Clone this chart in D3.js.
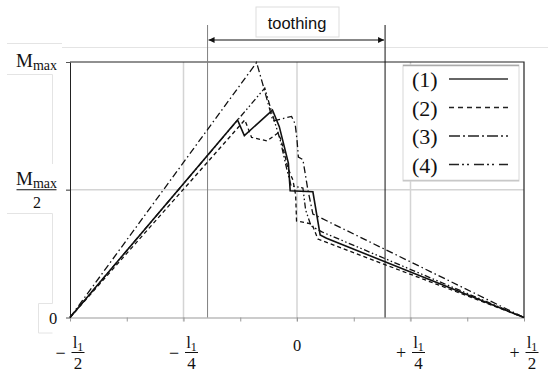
<!DOCTYPE html>
<html>
<head>
<meta charset="utf-8">
<script src="https://cdn.jsdelivr.net/npm/d3@7"></script>
<style>
  body { margin: 0; background: #fff; }
  svg { display: block; }
</style>
</head>
<body>
<div id="chart"></div>
<script>
// x in units of l1 (-l1/2 .. +l1/2), y in units of Mmax
const curve1 = [[-0.5, 0], [-0.131, 0.773], [-0.116, 0.712], [-0.054, 0.812], [-0.039, 0.747],
  [-0.019, 0.604], [-0.015, 0.496], [0.035, 0.492], [0.051, 0.323], [0.065, 0.310], [0.5, 0]];
const curve2 = [[-0.5, 0], [-0.115, 0.773], [-0.100, 0.705], [-0.066, 0.691], [-0.042, 0.722],
  [-0.035, 0.695], [-0.020, 0.585], [-0.009, 0.538], [-0.003, 0.480], [-0.001, 0.378],
  [0.033, 0.366], [0.046, 0.307], [0.5, 0]];
const curve3 = [[-0.5, 0], [-0.089, 0.998], [-0.073, 0.898], [-0.053, 0.769], [-0.012, 0.787],
  [-0.004, 0.757], [0.000, 0.695], [0.003, 0.628], [0.013, 0.618], [0.024, 0.499],
  [0.035, 0.405], [0.5, 0]];
const curve4 = [[-0.5, 0], [-0.071, 0.898], [-0.056, 0.806], [-0.037, 0.695], [-0.022, 0.577],
  [-0.013, 0.515], [0.013, 0.507], [0.019, 0.421], [0.031, 0.358], [0.055, 0.335], [0.5, 0]];

const series = [curve1, curve2, curve3, curve4];
const legendLabels = ["(1)", "(2)", "(3)", "(4)"];

const xTicks = [-0.5, -0.375, -0.25, -0.125, 0, 0.125, 0.25, 0.375, 0.5];
const xLabels = [
  { v: -0.5, sign: "\u2212", den: "2" },
  { v: -0.25, sign: "\u2212", den: "4" },
  { v: 0, sign: "", den: "" },
  { v: 0.25, sign: "+", den: "4" },
  { v: 0.5, sign: "+", den: "2" }
];
const yTicks = [0, 0.5, 1];
const gridX = [-0.25, 0, 0.25];
const gridY = [0.5];
const toothing = [-0.197, 0.194];
const toothingLabel = "toothing";

const W = 548, H = 373;
const serif = "'Liberation Serif', 'Times New Roman', serif";
const sans = "'Liberation Sans', Arial, sans-serif";
const dashes = [null, "4,3", "7,3,1.5,3", "6,2.5,1.5,2.5,1.5,2.5"];
const legendDashes = [null, "5,4", "11,3,2,3", "10,3,2,3,2,5"];

const svg = d3.select("#chart").append("svg")
  .attr("width", W).attr("height", H);

const x = d3.scaleLinear().domain([-0.5, 0.5]).range([70, 524]);
const y = d3.scaleLinear().domain([0, 1]).range([317.5, 62]);

// faint frames left over from the equation objects
const faint = svg.append("g").attr("stroke", "#e4e4e4").attr("fill", "none");
faint.append("path").attr("d", "M7,43.5H62 M62,47.5H548 M7,74.5H52.5V164 M7,213.5H52.5V303.5H38.5V333H52.5");

// grid
svg.append("g").selectAll("line").data(gridX).join("line")
  .attr("x1", d => x(d)).attr("x2", d => x(d))
  .attr("y1", y(1)).attr("y2", y(0) + 4)
  .attr("stroke", "#d4d4d4").attr("stroke-width", 1.5);
svg.append("g").selectAll("line").data(gridY).join("line")
  .attr("x1", x(-0.5) - 4).attr("x2", x(0.5))
  .attr("y1", d => y(d)).attr("y2", d => y(d))
  .attr("stroke", "#d4d4d4").attr("stroke-width", 1.5);

// axes
const xAxis = svg.append("g")
  .attr("transform", `translate(0,${y(0)})`)
  .call(d3.axisBottom(x).tickValues(xTicks).tickSize(4).tickSizeOuter(0).tickFormat(""));
xAxis.select(".domain").attr("stroke", "#999");
xAxis.selectAll(".tick line").attr("stroke", "#999");

const yAxis = svg.append("g")
  .attr("transform", `translate(${x(-0.5)},0)`)
  .call(d3.axisLeft(y).tickValues(yTicks).tickSize(4).tickSizeOuter(0).tickFormat(""));
yAxis.select(".domain").attr("stroke", "#222");
yAxis.selectAll(".tick line").attr("stroke", "#555");

// top and right frame
svg.append("path")
  .attr("d", `M${x(-0.5)},${y(1)}H${x(0.5)}V${y(0)}`)
  .attr("fill", "none").attr("stroke", "#222").attr("stroke-width", 1.2);

// toothing zone
svg.append("defs").append("marker")
  .attr("id", "arr").attr("viewBox", "0 0 10 10")
  .attr("refX", 10).attr("refY", 5)
  .attr("markerWidth", 9).attr("markerHeight", 6)
  .attr("markerUnits", "userSpaceOnUse")
  .attr("orient", "auto-start-reverse")
  .append("path").attr("d", "M0,0L10,5L0,10z").attr("fill", "#111");

svg.append("g").selectAll("line").data(toothing).join("line")
  .attr("x1", d => x(d)).attr("x2", d => x(d))
  .attr("y1", 25).attr("y2", y(0))
  .attr("stroke", (d, i) => i === 0 ? "#808080" : "#111")
  .attr("stroke-width", 1);

svg.append("line")
  .attr("x1", x(toothing[0]) + 1).attr("x2", x(toothing[1]) - 1)
  .attr("y1", 40).attr("y2", 40)
  .attr("stroke", "#111").attr("stroke-width", 1)
  .attr("marker-start", "url(#arr)").attr("marker-end", "url(#arr)");

svg.append("rect")
  .attr("x", 256).attr("y", 7).attr("width", 83).attr("height", 30)
  .attr("fill", "#fff").attr("stroke", "#ddd");
svg.append("text")
  .attr("x", 297).attr("y", 28.5)
  .attr("text-anchor", "middle")
  .style("font-family", sans).style("font-size", "16.5px").style("fill", "#111")
  .text(toothingLabel);

// curves
const line = d3.line().x(d => x(d[0])).y(d => y(d[1]));
svg.append("g").selectAll("path").data(series).join("path")
  .attr("d", line)
  .attr("fill", "none")
  .attr("stroke", "#111")
  .attr("stroke-width", (d, i) => i === 0 ? 1.6 : 1.3)
  .attr("stroke-dasharray", (d, i) => dashes[i]);

// y labels
const yl = svg.append("g").style("font-family", serif).style("fill", "#111");
const mTop = yl.append("text").attr("x", 36.5).attr("y", y(1) + 4.5)
  .attr("text-anchor", "middle").style("font-size", "19px");
mTop.append("tspan").text("M");
mTop.append("tspan").attr("dy", 3).style("font-size", "14px").text("max");

const mHalf = yl.append("text").attr("x", 36.5).attr("y", y(0.5) - 4.5)
  .attr("text-anchor", "middle").style("font-size", "19px");
mHalf.append("tspan").text("M");
mHalf.append("tspan").attr("dy", 3).style("font-size", "14px").text("max");
yl.append("line").attr("x1", 16.5).attr("x2", 56.5)
  .attr("y1", y(0.5)).attr("y2", y(0.5))
  .attr("stroke", "#111").attr("stroke-width", 1);
yl.append("text").attr("x", 37).attr("y", y(0.5) + 18.5)
  .attr("text-anchor", "middle").style("font-size", "16px").text("2");

yl.append("text").attr("x", 53).attr("y", y(0) + 6)
  .attr("text-anchor", "middle").style("font-size", "16.5px").text("0");

// x labels
const xl = svg.append("g").style("font-family", serif).style("fill", "#111")
  .selectAll("g").data(xLabels).join("g")
  .attr("transform", d => `translate(${x(d.v)},0)`);

xl.filter(d => d.den === "").append("text")
  .attr("y", 351).attr("text-anchor", "middle")
  .style("font-size", "16.5px").text("0");

const fr = xl.filter(d => d.den !== "");
fr.append("text").attr("x", -9.5).attr("y", 358.5)
  .attr("text-anchor", "middle").style("font-size", "18px")
  .text(d => d.sign);
const num = fr.append("text").attr("x", 8).attr("y", 348)
  .attr("text-anchor", "middle").style("font-size", "17px");
num.append("tspan").text("l");
num.append("tspan").attr("dy", 2.5).style("font-size", "12px").text("1");
fr.append("line").attr("x1", 1.5).attr("x2", 14.5)
  .attr("y1", 352.5).attr("y2", 352.5)
  .attr("stroke", "#111").attr("stroke-width", 1);
fr.append("text").attr("x", 8).attr("y", 368.5)
  .attr("text-anchor", "middle").style("font-size", "17px")
  .text(d => d.den);

// legend
const lg = svg.append("g").attr("transform", "translate(403,65)");
lg.append("rect").attr("width", 116).attr("height", 116)
  .attr("fill", "#fff").attr("stroke", "#d8d8d8");
lg.append("line").attr("x1", 0).attr("x2", 116).attr("y1", 0.5).attr("y2", 0.5)
  .attr("stroke", "#aaa").attr("stroke-width", 1.5);
lg.append("line").attr("x1", 0).attr("x2", 116).attr("y1", 115.5).attr("y2", 115.5)
  .attr("stroke", "#c8c8c8").attr("stroke-width", 1.5);

const item = lg.selectAll("g.item").data(legendLabels).join("g")
  .attr("class", "item")
  .attr("transform", (d, i) => `translate(0,${14 + i * 28.5})`);
item.append("text").attr("x", 9).attr("y", 8)
  .style("font-family", serif).style("font-size", "22px").style("fill", "#111")
  .text(d => d);
item.append("line").attr("x1", 46).attr("x2", 105)
  .attr("y1", 0).attr("y2", 0)
  .attr("stroke", (d, i) => i === 0 ? "#666" : "#222")
  .attr("stroke-width", (d, i) => i === 0 ? 2 : 1.6)
  .attr("stroke-dasharray", (d, i) => legendDashes[i]);
</script>
</body>
</html>
